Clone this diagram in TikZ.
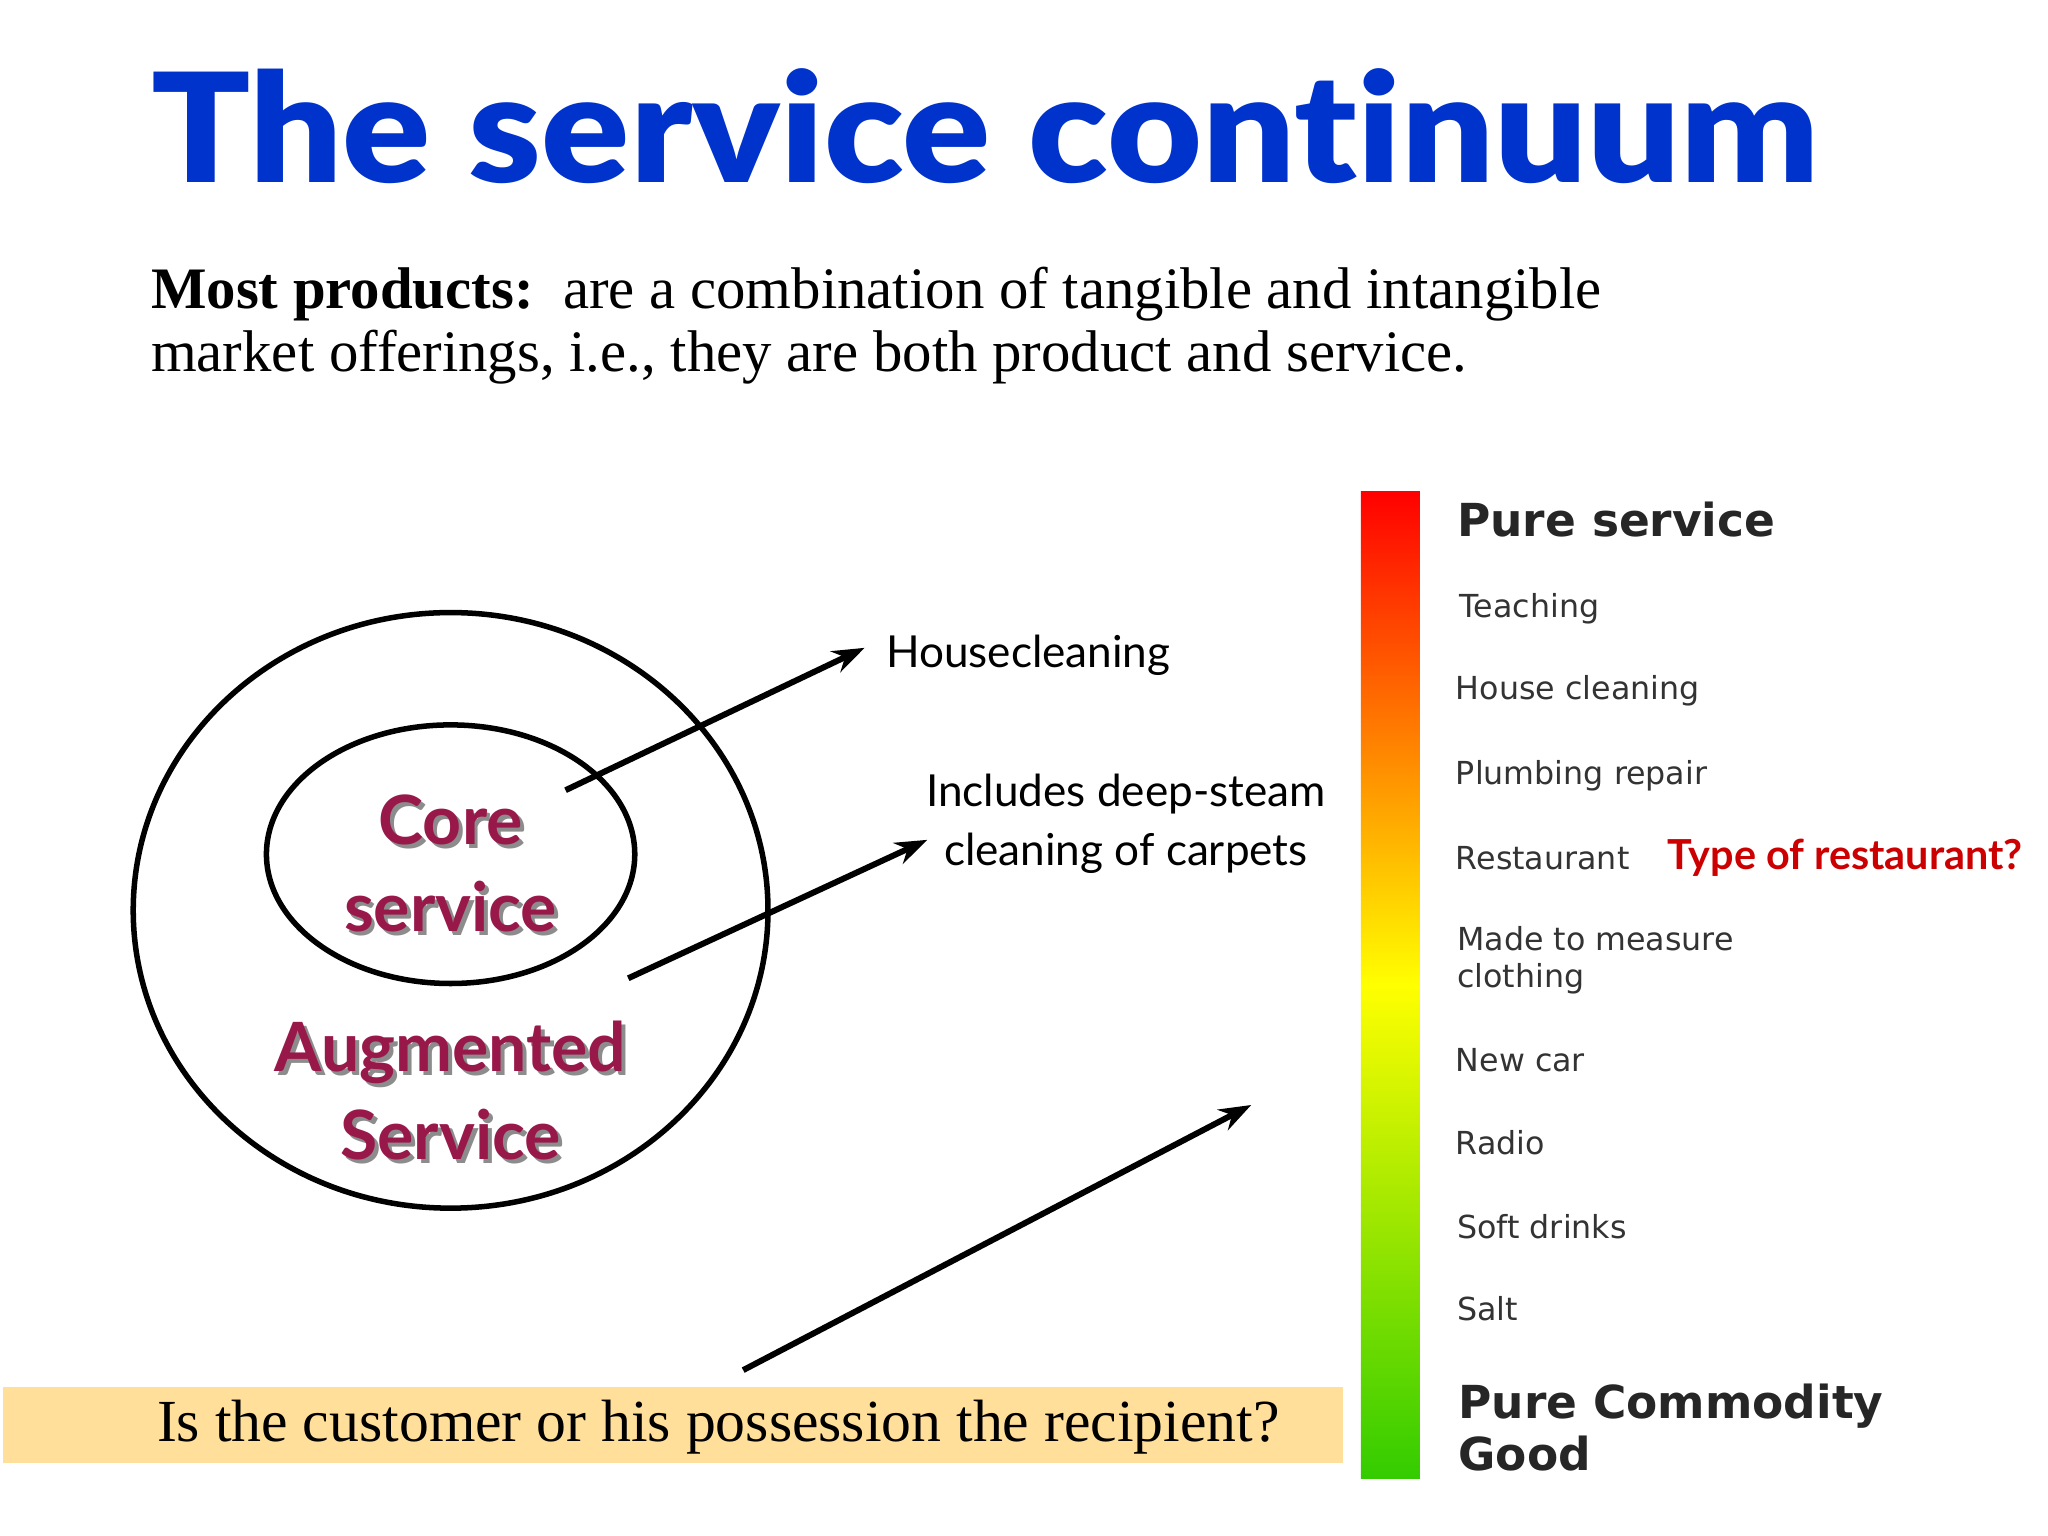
\documentclass[tikz,border=0pt]{standalone}
\usepackage{fontspec}
\setmainfont{Liberation Serif}
\newfontfamily\lato{Lato}
\newfontfamily\latoblk[Ligatures=NoCommon]{Lato Black}
\newfontfamily\dv{DejaVu Sans}
\usetikzlibrary{arrows.meta}
\definecolor{ttl}{HTML}{0033CC}
\definecolor{maroon}{HTML}{99184A}
\definecolor{boxy}{HTML}{FFDF99}
\definecolor{itm}{HTML}{333333}
\definecolor{grn}{HTML}{33CC00}
\pgfdeclareverticalshading{contin}{100bp}{color(0bp)=(grn); color(25bp)=(grn); color(50bp)=(yellow); color(62.5bp)=(orange); color(75bp)=(red); color(100bp)=(red)}
\tikzset{
 arr/.style={line width=1.3pt,-{Stealth[length=7pt,width=5pt]}},
 lab/.style={font=\lato\fontsize{9.6}{12.8}\selectfont,align=center},
 big/.style={font=\lato\bfseries\fontsize{14.8}{19}\selectfont,text=maroon,align=center},
 bigs/.style={font=\lato\bfseries\fontsize{14.8}{19}\selectfont,text=black!45,align=center},
 itemt/.style={font=\dv\fontsize{6.9}{8}\selectfont,text=itm,anchor=west,align=left,inner sep=0pt},
 headt/.style={font=\dv\bfseries\fontsize{9.9}{11.3}\selectfont,text=black!85,anchor=west,align=left,inner sep=0pt},
}
\begin{document}
\begin{tikzpicture}[x=0.01cm,y=-0.01cm]
\useasboundingbox (0,0) rectangle (1568,1176);
\fill[white] (0,0) rectangle (1568,1176);
\node[anchor=base west,inner sep=0pt,text=ttl,xscale=1.08,font=\latoblk\fontsize{33}{36}\selectfont] (title) at (115,140) {The service continuum};
\node[anchor=north west,inner sep=0pt,align=left,font=\fontsize{12.8}{13.7}\selectfont] (intro) at (115,204) {\textbf{Most products:}\ \ are a combination of tangible and intangible\\market offerings, i.e., they are both product and service.};
% circles
\draw[line width=1.2pt] (345,697) ellipse [x radius=243, y radius=228];
\draw[line width=1.2pt] (345,654) ellipse [x radius=141, y radius=99];
\node[bigs] at (348,664) {Core\\service};
\node[big] (core) at (345,661) {Core\\service};
\node[bigs] at (348,838) {Augmented\\Service};
\node[big] (aug) at (345,835) {Augmented\\Service};
% labels
\node[lab,anchor=west] (hc) at (666,502) {Housecleaning};
\node[lab] (ds) at (862,631) {Includes deep-steam\\cleaning of carpets};
\coordinate (a1s) at (433,605); \coordinate (a1e) at (662,496);
\coordinate (a2s) at (481,749); \coordinate (a2e) at (710,643);
\coordinate (a3s) at (569,1049); \coordinate (a3e) at (958,846);
\draw[arr] (a1s) -- (a1e);
\draw[arr] (a2s) -- (a2e);
\draw[arr] (a3s) -- (a3e);
% box
\fill[boxy] (2,1062) rectangle (1028,1120);
\node[font=\fontsize{13}{14}\selectfont] (q) at (550,1093) {Is the customer or his possession the recipient?};
% bar
\shade[shading=contin] (1042,376) rectangle (1087,1132);
\node[headt] (ps) at (1115,398) {Pure service};
\node[itemt] at (1117,466) {Teaching};
\node[itemt] at (1114,529) {House cleaning};
\node[itemt] at (1114,594) {Plumbing repair};
\node[itemt] (rest) at (1114,657) {Restaurant};
\node[anchor=west,inner sep=0pt,text=red!80!black,font=\lato\bfseries\fontsize{9}{10}\selectfont] (tor) at (1276,657) {Type of restaurant?};
\node[itemt] at (1115,735) {Made to measure\\clothing};
\node[itemt] at (1114,812) {New car};
\node[itemt] at (1114,875) {Radio};
\node[itemt] at (1115,939) {Soft drinks};
\node[itemt] at (1115,1002) {Salt};
\node[headt] (pc) at (1116,1093) {Pure Commodity\\Good};
\end{tikzpicture}
\end{document}
